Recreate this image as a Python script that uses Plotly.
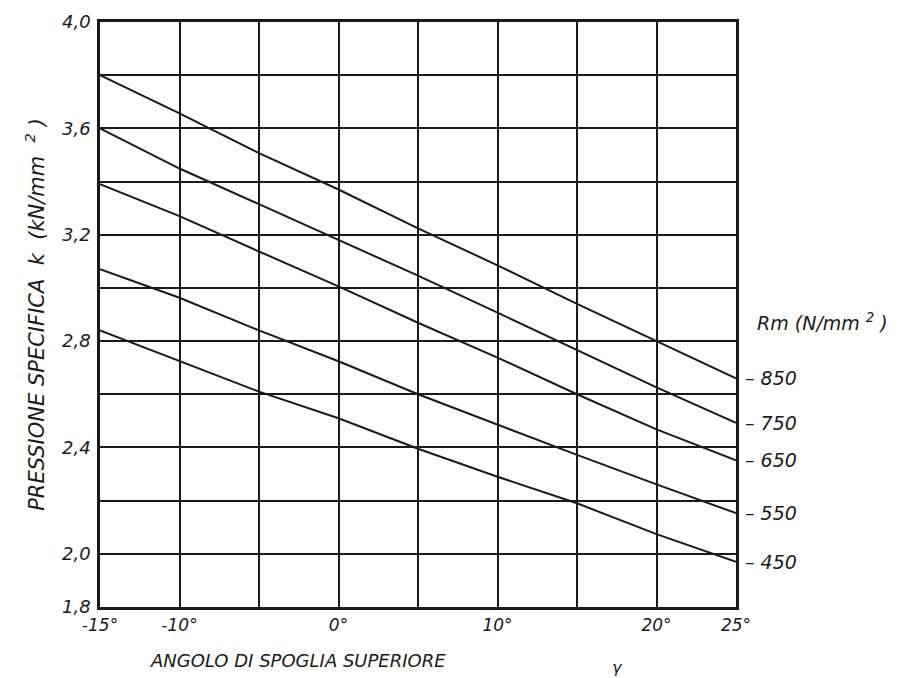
import plotly.graph_objects as go

# Data
angles = [-15, -10, -5, 0, 5, 10, 15, 20, 25]
rm_labels = ["850", "750", "650", "550", "450"]
k_850 = [3.80, 3.656, 3.507, 3.370, 3.224, 3.085, 2.940, 2.800, 2.660]
k_750 = [3.60, 3.449, 3.315, 3.180, 3.046, 2.907, 2.765, 2.626, 2.493]
k_650 = [3.39, 3.270, 3.137, 3.006, 2.869, 2.738, 2.600, 2.468, 2.352]
k_550 = [3.07, 2.963, 2.840, 2.724, 2.600, 2.485, 2.372, 2.261, 2.153]
k_450 = [2.84, 2.726, 2.610, 2.510, 2.395, 2.290, 2.190, 2.074, 1.970]
series = [k_850, k_750, k_650, k_550, k_450]

x_tickvals = [-15, -10, -5, 0, 5, 10, 15, 20, 25]
x_ticktext = ["-15°", "-10°", "", "0°", "", "10°", "", "20°", "25°"]
y_tickvals = [1.8, 2.0, 2.2, 2.4, 2.6, 2.8, 3.0, 3.2, 3.4, 3.6, 3.8, 4.0]
y_ticktext = ["1,8", "2,0", "", "2,4", "", "2,8", "", "3,2", "", "3,6", "", "4,0"]

FONT = "DejaVu Sans, Liberation Sans, sans-serif"
INK = "#1a1a1a"

fig = go.Figure()
for lab, vals in zip(rm_labels, series):
    fig.add_trace(go.Scatter(x=angles, y=vals, mode="lines", name=lab,
                             line=dict(color=INK, width=2), showlegend=False))
    fig.add_annotation(x=angles[-1], y=vals[-1], xref="x", yref="y",
                       text="<i>– " + lab + "</i>", showarrow=False,
                       xanchor="left", yanchor="middle", xshift=7,
                       font=dict(family=FONT, size=19, color=INK))

fig.add_annotation(x=1.03, y=0.487, xref="paper", yref="paper",
                   text="<i>Rm (N/mm <sup>2</sup> )</i>", showarrow=False,
                   xanchor="left", yanchor="middle",
                   font=dict(family=FONT, size=19, color=INK))
fig.add_annotation(x=0.0755, y=-0.091, xref="paper", yref="paper",
                   text="<i>ANGOLO DI SPOGLIA SUPERIORE</i>", showarrow=False,
                   xanchor="left", yanchor="middle",
                   font=dict(family=FONT, size=18, color=INK))
fig.add_annotation(x=0.813, y=-0.103, xref="paper", yref="paper",
                   text="<i>γ</i>", showarrow=False,
                   xanchor="center", yanchor="middle",
                   font=dict(family=FONT, size=16, color=INK))

fig.update_xaxes(range=[-15, 25], tickmode="array", tickvals=x_tickvals,
                 ticktext=x_ticktext, showgrid=True, gridcolor=INK, gridwidth=1.5,
                 showline=True, linecolor=INK, linewidth=2.5, mirror=True,
                 zeroline=False, ticks="outside", ticklen=1, tickcolor="white",
                 automargin=False,
                 tickfont=dict(family=FONT, size=17, color=INK, style="italic"))
fig.update_yaxes(range=[1.8, 4.0], tickmode="array", tickvals=y_tickvals,
                 ticktext=y_ticktext, showgrid=True, gridcolor=INK, gridwidth=1.5,
                 showline=True, linecolor=INK, linewidth=2.5, mirror=True,
                 zeroline=False, ticks="outside", ticklen=3, tickcolor="white",
                 automargin=False,
                 tickfont=dict(family=FONT, size=18, color=INK, style="italic"),
                 title=dict(text="<i>PRESSIONE SPECIFICA  k  (kN/mm  <sup>2</sup> )</i>",
                            font=dict(family=FONT, size=21, color=INK), standoff=12))

fig.update_layout(width=898, height=670, margin=dict(l=92, r=170, t=14, b=71),
                  plot_bgcolor="white", paper_bgcolor="white")

fig.write_html("out.html")
